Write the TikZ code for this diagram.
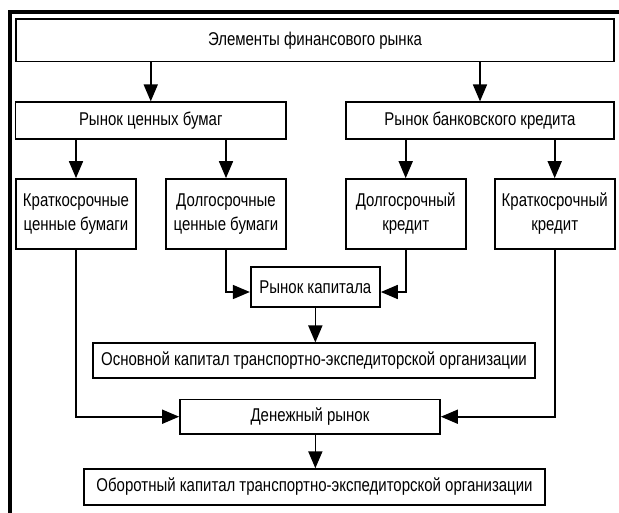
\documentclass[tikz,border=0pt]{standalone}
\usepackage{fontspec}
\setmainfont[FakeStretch=0.81]{Liberation Sans}
\usetikzlibrary{arrows.meta}
\begin{document}
\begin{tikzpicture}[x=1pt,y=-1pt,
  box/.style={draw,line width=1.7pt,inner sep=0pt,align=center,font=\fontsize{18.5}{24}\selectfont},
  arr/.style={line width=1.7pt,-{Triangle[length=17pt,width=14pt]}}]
\useasboundingbox (0,0) rectangle (619,512);
\draw[line width=4pt] (10,514) -- (10,12) -- (621,12);
\node[box,minimum width=598pt,minimum height=42.5pt] (top) at (315,40.25) {Элементы финансового рынка};
\node[box,minimum width=270.5pt,minimum height=36.7pt] (rcb) at (150.75,120.6) {Рынок ценных бумаг};
\node[box,minimum width=268pt,minimum height=36.7pt] (rbk) at (480,120.6) {Рынок банковского кредита};
\node[box,minimum width=120pt,minimum height=70pt] (k1) at (76,214) {Краткосрочные\\ценные бумаги};
\node[box,minimum width=120pt,minimum height=70pt] (d1) at (226,214) {Долгосрочные\\ценные бумаги};
\node[box,minimum width=120pt,minimum height=70pt] (d2) at (405.7,214) {Долгосрочный\\кредит};
\node[box,minimum width=120pt,minimum height=70pt] (k2) at (554.7,214) {Краткосрочный\\кредит};
\node[box,minimum width=129.3pt,minimum height=40.6pt] (rk) at (315.35,287) {Рынок капитала};
\node[box,minimum width=441.7pt,minimum height=35pt] (ok) at (314,360.8) {Основной капитал транспортно-экспедиторской организации};
\node[box,minimum width=260pt,minimum height=34.7pt] (dr) at (310,416.7) {Денежный рынок};
\node[box,minimum width=461pt,minimum height=35.7pt] (ob) at (314.5,487) {Оборотный капитал транспортно-экспедиторской организации};
\draw[arr] (top.south -| rcb.north) -- (rcb.north);
\draw[arr] (top.south -| rbk.north) -- (rbk.north);
\draw[arr] (rcb.south -| k1.north) -- (k1.north);
\draw[arr] (rcb.south -| d1.north) -- (d1.north);
\draw[arr] (rbk.south -| d2.north) -- (d2.north);
\draw[arr] (rbk.south -| k2.north) -- (k2.north);
\draw[arr] (d1.south) |- ([yshift=-5pt]rk.west);
\draw[arr] (d2.south) |- ([yshift=-5pt]rk.east);
\draw[arr] (rk.south) -- (ok.north -| rk.south);
\draw[arr] (k1.south) |- (dr.west);
\draw[arr] (k2.south) |- (dr.east);
\draw[arr] (dr.south -| rk.south) -- (ob.north -| rk.south);
\end{tikzpicture}
\end{document}
